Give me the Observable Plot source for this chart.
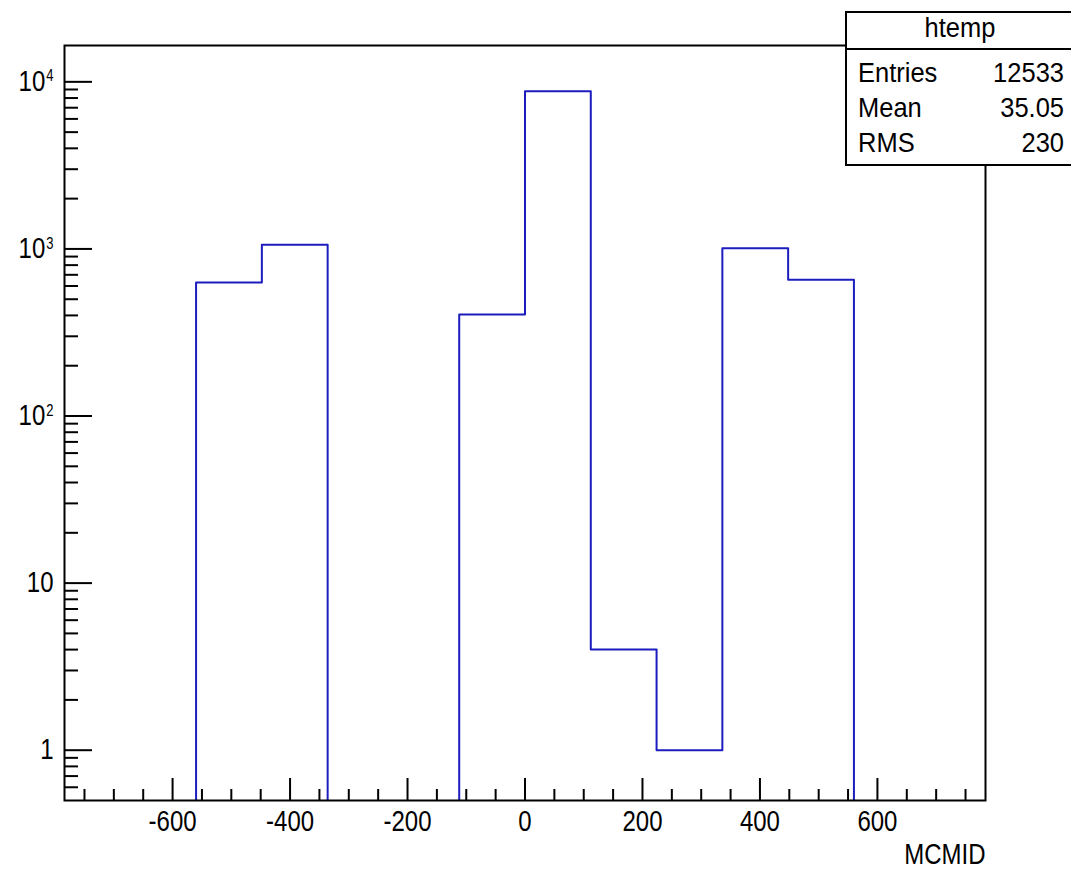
<!DOCTYPE html>
<html><head><meta charset="utf-8">
<script src="https://cdn.jsdelivr.net/npm/d3@7"></script>
<script src="https://cdn.jsdelivr.net/npm/@observablehq/plot@0.6"></script>
<style>
html,body{margin:0;padding:0;background:#fff;overflow:hidden;}
#chart{width:1071px;height:870px;}
</style></head><body><div id="chart"></div>
<script>
// Histogram bins (MCMID), 14 bins of width 112
const binEdges = [-784,-672,-560,-448,-336,-224,-112,0,112,224,336,448,560,672,784];
const binCounts = [0,0,630,1060,0,0,405,8770,4,1,1010,653,0,0];
const xMajorTicks = [-600,-400,-200,0,200,400,600];
const xMinorTicks = [-750,-700,-650,-550,-500,-450,-350,-300,-250,-150,-100,-50,50,100,150,250,300,350,450,500,550,650,700,750];
const yMajorTicks = [1,10,100,1000,10000];
const yTickLabels = ["1","10","10^2","10^3","10^4"];
const yMinorTicks = [0.6,0.7,0.8,0.9,2,3,4,5,6,7,8,9,20,30,40,50,60,70,80,90,200,300,400,500,600,700,800,900,2000,3000,4000,5000,6000,7000,8000,9000];
const xLabel = "MCMID";
const statsTitle = "htemp";
const statsNames = ["Entries","Mean","RMS"];
const statsValues = ["12533","35.05","230"];

const FLOOR = 0.1; // empty bins drawn below the visible range
const points = binEdges.map((e, i) => {
  const c = i < binCounts.length ? binCounts[i] : binCounts[binCounts.length - 1];
  return {x: e, y: c > 0 ? c : FLOOR};
});

const font = "'Liberation Sans', Arial, Helvetica, sans-serif";
const lineColor = "#1c1cbf";

const svg = Plot.plot({
  width: 1071, height: 870,
  marginLeft: 64, marginRight: 86, marginTop: 45, marginBottom: 70,
  x: {domain: [-784, 784]},
  y: {type: "log", domain: [0.5, 16500]},
  style: {fontFamily: font, fontSize: "24px", color: "black", background: "white"},
  marks: [
    Plot.line(points, {x: "x", y: "y", curve: "step-after", stroke: lineColor, strokeWidth: 2, clip: true}),
    Plot.frame({stroke: "black", strokeWidth: 2}),
    Plot.axisX({ticks: xMajorTicks, tickSize: -22, tickPadding: 32, tickFormat: d => String(d), label: null, strokeWidth: 2}),
    Plot.axisX({ticks: xMinorTicks, tickSize: -11, text: null, label: null, strokeWidth: 2}),
    Plot.axisY({ticks: yMajorTicks, tickSize: -28, tickPadding: 39, tickFormat: d => yTickLabels[yMajorTicks.indexOf(d)], label: null, strokeWidth: 2}),
    Plot.axisY({ticks: yMinorTicks, tickSize: -14, text: null, label: null, strokeWidth: 2}),
    Plot.text([xLabel], {text: d => d, frameAnchor: "bottom-right", dy: 63, lineAnchor: "bottom", textAnchor: "end", fontSize: 24})
  ]
});

// superscript exponents on y labels
d3.select(svg).selectAll("text").each(function() {
  const t = this.textContent;
  if (t.includes("^")) {
    const [b, e] = t.split("^");
    this.textContent = b;
    d3.select(this).append("tspan").attr("dx", 1).attr("dy", -8).attr("font-size", 13).text(e);
  }
});

// slightly tall (condensed-looking) lettering, as in the reference
d3.select(svg).selectAll("text").each(function() {
  const tr = this.getAttribute("transform") || "";
  this.setAttribute("transform", (tr + " scale(1,1.2)").trim());
});

// statistics box
const g = d3.select(svg).append("g").attr("font-family", font).attr("font-size", 25.5).attr("fill", "black");
g.append("rect").attr("x", 846).attr("y", 12).attr("width", 228).attr("height", 153)
  .attr("fill", "white").attr("stroke", "black").attr("stroke-width", 2);
g.append("line").attr("x1", 846).attr("x2", 1074).attr("y1", 49).attr("y2", 49).attr("stroke", "black").attr("stroke-width", 2);
g.append("text").attr("text-anchor", "middle").attr("transform", "translate(960,37) scale(1,1.1)").text(statsTitle);
statsNames.forEach((n, i) => {
  const yb = 82 + i * 35;
  g.append("text").attr("text-anchor", "start").attr("transform", `translate(858,${yb}) scale(1,1.1)`).text(n);
  g.append("text").attr("text-anchor", "end").attr("transform", `translate(1064,${yb}) scale(1,1.1)`).text(statsValues[i]);
});

document.getElementById("chart").appendChild(svg);
</script>
</body></html>
